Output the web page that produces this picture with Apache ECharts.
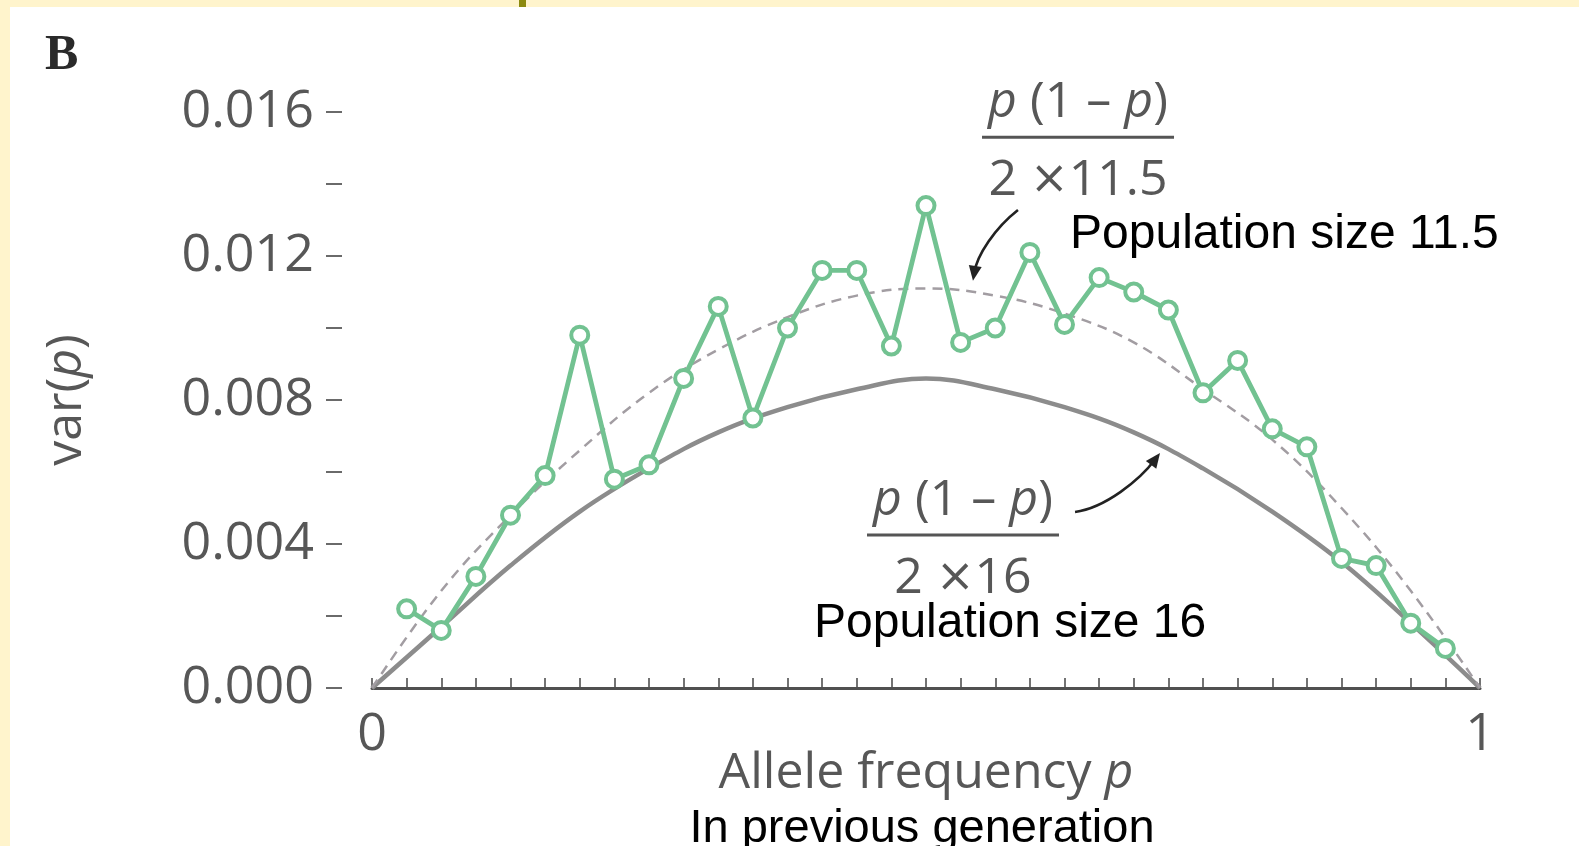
<!DOCTYPE html>
<html>
<head>
<meta charset="utf-8">
<title>var(p) against allele frequency</title>
<script src="https://cdn.jsdelivr.net/npm/echarts@6/dist/echarts.min.js"></script>
<style>
  html, body { margin: 0; padding: 0; width: 1579px; height: 846px; overflow: hidden; background: #fff4cc; }
  #panel { position: absolute; left: 10px; top: 7px; right: 0; bottom: 0; background: #ffffff; }
  #tab { position: absolute; left: 519px; top: 0; width: 7px; height: 7px; background: #8c8a10; }
  #chart { position: absolute; left: 0; top: 0; width: 1579px; height: 846px; }
</style>
</head>
<body>
<div id="panel"></div>
<div id="tab"></div>
<div id="chart"></div>
<script>
// Allele frequency in the previous generation (one class per 1/32)
const freq = [
  0.03125, 0.0625, 0.09375, 0.125, 0.15625, 0.1875, 0.21875, 0.25,
  0.28125, 0.3125, 0.34375, 0.375, 0.40625, 0.4375, 0.46875, 0.5,
  0.53125, 0.5625, 0.59375, 0.625, 0.65625, 0.6875, 0.71875, 0.75,
  0.78125, 0.8125, 0.84375, 0.875, 0.90625, 0.9375, 0.96875
];
// Observed variance of p in the next generation
const observedVar = [
  0.0022, 0.0016, 0.0031, 0.0048, 0.0059, 0.0098, 0.0058, 0.0062,
  0.0086, 0.0106, 0.0075, 0.0100, 0.0116, 0.0116, 0.0095, 0.0134,
  0.0096, 0.0100, 0.0121, 0.0101, 0.0114, 0.0110, 0.0105, 0.0082,
  0.0091, 0.0072, 0.0067, 0.0036, 0.0034, 0.0018, 0.0011
];
// Expected-variance curves, sampled every 1/16
const curveFreq = [
  0, 0.0625, 0.125, 0.1875, 0.25, 0.3125, 0.375, 0.4375, 0.5,
  0.5625, 0.625, 0.6875, 0.75, 0.8125, 0.875, 0.9375, 1
];
const expectedN16 = [
  0, 0.0017, 0.0034, 0.0049, 0.0061, 0.0071, 0.0078, 0.0083, 0.0086,
  0.0083, 0.0078, 0.0071, 0.0061, 0.0049, 0.0035, 0.0018, 0
];
const expectedN115 = [
  0, 0.0027, 0.0048, 0.0066, 0.0082, 0.0094, 0.0103, 0.0109, 0.0111,
  0.0109, 0.0104, 0.0096, 0.0083, 0.0069, 0.0050, 0.0027, 0
];
// Axis settings
const xTickLabels = { 0: '0', 1: '1' };
const yLabelStep = 0.004;

const GREY = '#575757';
const SANS = '"Open Sans", sans-serif';
const GREEN = '#72c291';

const zip = (xs, ys) => xs.map((x, i) => [x, ys[i]]);

const chart = echarts.init(document.getElementById('chart'), null, { renderer: 'canvas' });

chart.setOption({
  backgroundColor: 'transparent',
  animation: false,
  grid: { left: 372, right: 99, top: 112, bottom: 158 },
  xAxis: {
    type: 'value',
    min: 0, max: 1, interval: 0.03125,
    name: 'Allele frequency {i|p}',
    nameLocation: 'middle',
    nameGap: 61,
    nameMoveOverlap: false,
    nameTextStyle: {
      fontFamily: SANS, fontSize: 50, color: GREY,
      rich: { i: { fontFamily: SANS, fontSize: 50, color: GREY, fontStyle: 'italic' } }
    },
    axisLine: { show: true, onZero: false, lineStyle: { color: '#505050', width: 3 } },
    axisTick: { show: true, inside: true, length: 10, lineStyle: { color: '#505050', width: 1.6 } },
    axisLabel: {
      show: true, margin: 21, fontFamily: SANS, fontSize: 52, color: GREY,
      formatter: v => (v in xTickLabels ? xTickLabels[v] : '')
    },
    splitLine: { show: false }
  },
  yAxis: {
    type: 'value',
    min: 0, max: 0.016, interval: 0.002,
    offset: 30,
    name: 'var({i|p})',
    nameLocation: 'middle',
    nameGap: 250,
    nameMoveOverlap: false,
    nameTextStyle: {
      fontFamily: SANS, fontSize: 50, color: GREY,
      rich: { i: { fontFamily: SANS, fontSize: 50, color: GREY, fontStyle: 'italic' } }
    },
    axisLine: { show: false, onZero: false },
    axisTick: { show: true, length: 16, lineStyle: { color: '#6a6a6a', width: 2 } },
    axisLabel: {
      show: true, margin: 28, fontFamily: SANS, fontSize: 52, color: GREY,
      padding: [8, 0, 0, 0],
      formatter: v => {
        const k = v / yLabelStep;
        return Math.abs(k - Math.round(k)) < 1e-6 ? v.toFixed(3) : '';
      }
    },
    splitLine: { show: false }
  },
  series: [
    {
      name: 'p(1 - p) / (2 x 16)',
      type: 'line',
      data: zip(curveFreq, expectedN16),
      smooth: 0.4,
      showSymbol: false,
      lineStyle: { color: '#8c8c8c', width: 4.5 },
      z: 2
    },
    {
      name: 'p(1 - p) / (2 x 11.5)',
      type: 'line',
      data: zip(curveFreq, expectedN115),
      smooth: 0.4,
      showSymbol: false,
      lineStyle: { color: '#a29da2', width: 2.5, type: [10, 7] },
      z: 3
    },
    {
      name: 'observed',
      type: 'line',
      data: zip(freq, observedVar),
      symbol: 'circle',
      symbolSize: 17,
      itemStyle: { color: '#ffffff', borderColor: GREEN, borderWidth: 4 },
      lineStyle: { color: GREEN, width: 4.8 },
      z: 4
    }
  ]
});

// Annotation anchors, given in data coordinates [p, var(p)]
const fractions = [
  { at: [0.6372, 0.01530], num: -34, den: 44, denText: '2 {x|×}11.5' },
  { at: [0.5334, 0.00425], num: -34, den: 44, denText: '2 {x|×}16' }
];
const captions = [
  { at: [0.630, 0.01260], text: 'Population size 11.5', size: 48 },
  { at: [0.3989, 0.00178], text: 'Population size 16', size: 48 },
  { at: [0.4964, -0.00391], text: 'In previous generation', size: 47, align: 'center' }
];
const arrows = [
  { from: [0.5830, 0.01328], c1: [0.5623, 0.01278], c2: [0.5460, 0.01203], to: [0.5424, 0.01131] },
  { from: [0.6345, 0.00489], c1: [0.6616, 0.00500], c2: [0.6931, 0.00578], to: [0.7112, 0.00653] }
];

function buildAnnotations() {
  const px = d => chart.convertToPixel({ gridIndex: 0 }, d);
  const els = [];
  const italic = { fontFamily: SANS, fontSize: 50, fill: GREY, fontStyle: 'italic' };
  const cross = { fontFamily: '"DejaVu Sans", sans-serif', fontSize: 46, fill: GREY };

  els.push({
    type: 'text', x: 45, y: 56,
    style: { text: 'B', fontFamily: '"Liberation Serif", serif', fontWeight: 'bold', fontSize: 50,
             fill: '#2a2a2a', align: 'left', verticalAlign: 'middle' }
  });

  fractions.forEach(f => {
    const [cx, cy] = px(f.at);
    els.push({ type: 'line', shape: { x1: cx - 96, y1: cy, x2: cx + 96, y2: cy },
               style: { stroke: '#555', lineWidth: 3 } });
    els.push({
      type: 'text', x: cx, y: cy + f.num,
      style: { text: '{i|p} (1 – {i|p})', fontFamily: SANS, fontSize: 50, fill: GREY,
               rich: { i: italic }, align: 'center', verticalAlign: 'middle' }
    });
    els.push({
      type: 'text', x: cx, y: cy + f.den,
      style: { text: f.denText, fontFamily: SANS, fontSize: 50, fill: GREY,
               rich: { x: cross }, align: 'center', verticalAlign: 'middle' }
    });
  });

  captions.forEach(c => {
    const [x, y] = px(c.at);
    els.push({
      type: 'text', x, y,
      style: { text: c.text, fontFamily: '"Liberation Sans", Arial, sans-serif', fontSize: c.size,
               fill: '#000', align: c.align || 'left', verticalAlign: 'middle' }
    });
  });

  arrows.forEach(a => {
    const s = px(a.from), c1 = px(a.c1), c2 = px(a.c2), t = px(a.to);
    let dx = t[0] - c2[0], dy = t[1] - c2[1];
    const len = Math.hypot(dx, dy) || 1;
    dx /= len; dy /= len;
    const head = 15, half = 6.5;
    const bx = t[0] - dx * head, by = t[1] - dy * head;
    els.push({
      type: 'bezierCurve',
      shape: { x1: s[0], y1: s[1], cpx1: c1[0], cpy1: c1[1], cpx2: c2[0], cpy2: c2[1],
               x2: t[0] - dx * 8, y2: t[1] - dy * 8 },
      style: { stroke: '#222', lineWidth: 2.6, fill: null }
    });
    els.push({
      type: 'polygon',
      shape: { points: [[t[0], t[1]], [bx - dy * half, by + dx * half], [bx + dy * half, by - dx * half]] },
      style: { fill: '#222' }
    });
  });

  chart.setOption({ graphic: { elements: els } });
}

buildAnnotations();
</script>
</body>
</html>
